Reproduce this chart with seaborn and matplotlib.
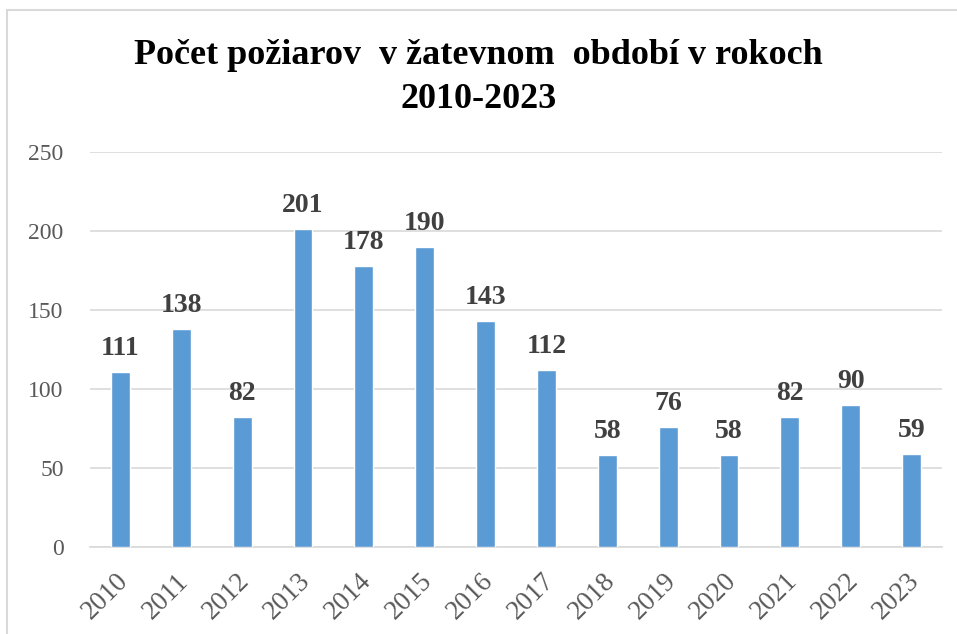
import matplotlib
matplotlib.use("Agg")
import matplotlib.pyplot as plt
import matplotlib.transforms as mtransforms
import seaborn as sns
import pandas as pd
from matplotlib.patches import Rectangle

years = ["2010", "2011", "2012", "2013", "2014", "2015", "2016",
         "2017", "2018", "2019", "2020", "2021", "2022", "2023"]
fires = [111, 138, 82, 201, 178, 190, 143, 112, 58, 76, 58, 82, 90, 59]
yticks = [0, 50, 100, 150, 200, 250]
title = "Počet požiarov  v žatevnom  období v rokoch\n2010-2023"

sns.set_theme(style="white")
plt.rcParams['font.family'] = ['Liberation Serif', 'DejaVu Serif']

df = pd.DataFrame({"year": years, "fires": fires})

fig = plt.figure(figsize=(9.57, 6.34), dpi=100)
ax = fig.add_axes([90/957, 1-547/634, 852/957, 395/634])

sns.barplot(data=df, x="year", y="fires", color="#5B9BD5", width=0.31,
            saturation=1, ax=ax, zorder=3)

ax.set_ylim(0, 250)
ax.set_yticks(yticks)
ax.set_xlim(-0.5, len(years) - 0.5)
ax.grid(axis="y", color="#D9D9D9", linewidth=1.2, zorder=0)
ax.set_axisbelow(True)
for s in ["top", "right", "left"]:
    ax.spines[s].set_visible(False)
ax.spines["bottom"].set_color("#D9D9D9")
ax.spines["bottom"].set_linewidth(1.2)
ax.set_xlabel("")
ax.set_ylabel("")
ax.tick_params(axis="y", colors="#595959", labelsize=17, length=0, pad=19)
ax.tick_params(axis="x", colors="#595959", labelsize=19.5, length=0, pad=15.5)
offset = mtransforms.ScaledTranslation(-5/100, 0, fig.dpi_scale_trans)
for lbl in ax.get_xticklabels():
    lbl.set_rotation(45)
    lbl.set_ha("right")
    lbl.set_rotation_mode("anchor")
    lbl.set_transform(lbl.get_transform() + offset)

for c in ax.containers:
    ax.bar_label(c, labels=[str(v) for v in fires], padding=8,
                 fontsize=20, fontweight="bold", color="#404040")

fig.text(0.5, 1-77.5/634, title, ha="center", va="center", fontsize=26,
         fontweight="bold", color="black", linespacing=1.45)

fig.patches.append(Rectangle((7/957, -0.05), 1.0, 1-10/634 + 0.05,
                             transform=fig.transFigure, fill=False,
                             edgecolor="#D9D9D9", linewidth=1.5))

fig.savefig("out.png", dpi=100)
